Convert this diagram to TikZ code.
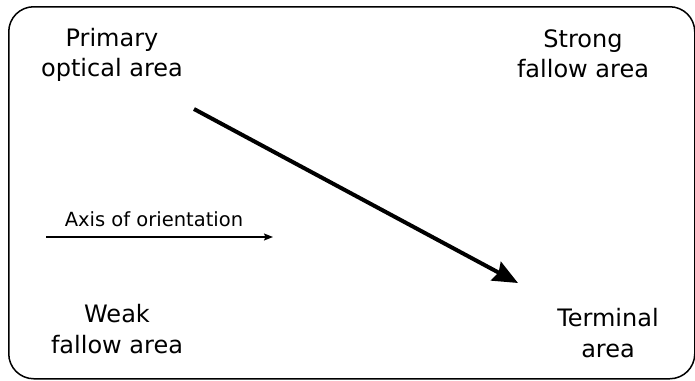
\documentclass[tikz,border=0pt]{standalone}
\usepackage{fontspec}
\setmainfont{DejaVu Sans}
\usetikzlibrary{arrows.meta}
\begin{document}
\begin{tikzpicture}[x=1pt,y=-1pt,
  area/.style={align=center,inner sep=0pt,font=\fontsize{24}{30.5}\selectfont},
  small/.style={inner sep=0pt,font=\fontsize{19.5}{24}\selectfont},
  frame/.style={draw,line width=1.5pt,rounded corners=25pt},
  big/.style={line width=4pt,-{Stealth[length=25pt,width=21pt,inset=3pt]}},
  thin/.style={line width=1.3pt,-{Stealth[length=9pt,width=7pt,inset=1.5pt]}}]
\useasboundingbox (0,0) rectangle (695,380);
\node[frame,minimum width=686pt,minimum height=372pt,anchor=north west] (box) at (8,6) {};
\node[area] (primary) at (112,55) {Primary\\optical area};
\node[area] (strong) at (583,54) {Strong\\fallow area};
\node[area] (weak) at (117,329) {Weak\\fallow area};
\node[area] (terminal) at (608,333) {Terminal\\area};
\coordinate (b1) at (194,109);
\coordinate (b2) at (518,283);
\draw[big] (b1) -- (b2);
\coordinate (a1) at (46,237);
\coordinate (a2) at (273,237);
\draw[thin] (a1) -- (a2);
\node[small,anchor=base] (axis) at (154,226) {Axis of orientation};
\end{tikzpicture}
\end{document}
